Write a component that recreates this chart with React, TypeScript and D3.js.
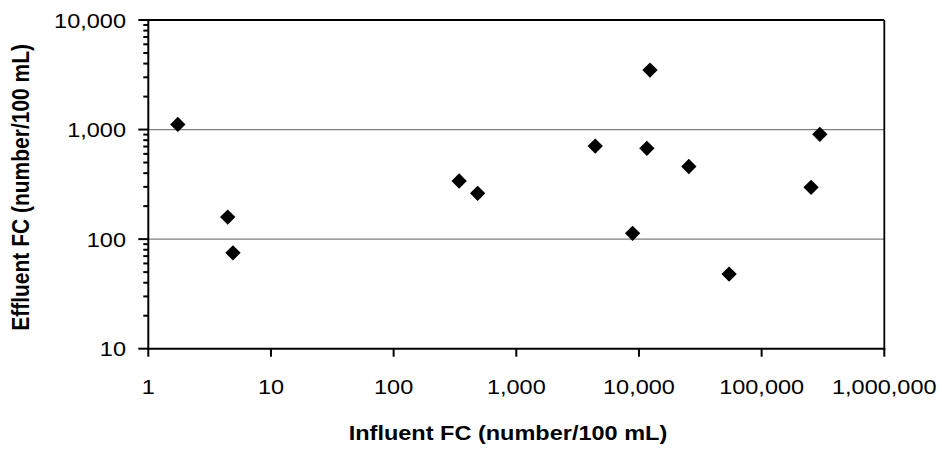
import React from "react";
import * as d3 from "d3";

const influentFC: number[] = [1.74, 4.44, 4.9, 342, 484, 4400, 8870, 11600, 12300, 25500, 54300, 253000, 298000];
const effluentFC: number[] = [1115, 159, 75, 339, 262, 707, 113, 674, 3490, 460, 48, 297, 905];
const xTicks: number[] = [1, 10, 100, 1000, 10000, 100000, 1000000];
const yTicks: number[] = [10, 100, 1000, 10000];
const gridValues: number[] = [100, 1000];
const xTitle = "Influent FC (number/100 mL)";
const yTitle = "Effluent FC (number/100 mL)";

const W = 942;
const H = 452;
const left = 148.3;
const right = 884.3;
const top = 20;
const bottom = 348.7;
const font = "'Liberation Sans', Arial, Helvetica, sans-serif";
const FS = 21;
const SX = 1.12;

export default function App() {
  const x = d3.scaleLog().domain([1, 1000000]).range([left, right]);
  const y = d3.scaleLog().domain([10, 10000]).range([bottom, top]);
  const fmt = d3.format(",");
  const minor: number[] = [];
  for (let d = 10; d < 10000; d *= 10) {
    for (let k = 2; k <= 9; k++) minor.push(d * k);
  }
  const diamond = d3.symbol().type(d3.symbolDiamond2).size(150)();

  return (
    <svg width={W} height={H} style={{ position: "absolute", left: 0, top: 0, background: "#fff" }}>
      <rect x={0} y={0} width={W} height={H} fill="#fff" />
      {gridValues.map((v) => (
        <line key={"g" + v} x1={left} x2={right} y1={y(v)} y2={y(v)} stroke="#808080" strokeWidth={1.2} />
      ))}
      <line x1={left} x2={right} y1={top} y2={top} stroke="#000" strokeWidth={1.8} />
      <line x1={right} x2={right} y1={top} y2={bottom} stroke="#000" strokeWidth={1.8} />
      <line x1={left} x2={left} y1={top - 1} y2={bottom + 1} stroke="#000" strokeWidth={2} />
      <line x1={left - 1} x2={right + 1} y1={bottom} y2={bottom} stroke="#000" strokeWidth={2} />
      {yTicks.map((v) => (
        <g key={"yt" + v}>
          <line x1={left - 10} x2={left} y1={y(v)} y2={y(v)} stroke="#000" strokeWidth={2} />
          <text
            transform={`translate(126,${y(v)}) scale(${SX},1)`}
            dy="0.36em"
            textAnchor="end"
            fontFamily={font}
            fontSize={FS}
            fill="#000"
          >
            {fmt(v)}
          </text>
        </g>
      ))}
      {minor.map((v) => (
        <line key={"ym" + v} x1={left - 5} x2={left} y1={y(v)} y2={y(v)} stroke="#000" strokeWidth={2} />
      ))}
      {xTicks.map((v) => (
        <g key={"xt" + v}>
          <line x1={x(v)} x2={x(v)} y1={bottom} y2={bottom + 8} stroke="#000" strokeWidth={2} />
          <text
            transform={`translate(${x(v)},394) scale(${SX},1)`}
            textAnchor="middle"
            fontFamily={font}
            fontSize={FS}
            fill="#000"
          >
            {fmt(v)}
          </text>
        </g>
      ))}
      {influentFC.map((v, i) => (
        <path key={"p" + i} d={diamond!} transform={`translate(${x(v)},${y(effluentFC[i])})`} fill="#000" />
      ))}
      <text
        transform={`translate(508,440) scale(${SX},1)`}
        textAnchor="middle"
        fontFamily={font}
        fontSize={FS}
        fontWeight="bold"
        fill="#000"
      >
        {xTitle}
      </text>
      <text
        transform={`translate(29,${(top + bottom) / 2 + 3}) scale(${SX},1) rotate(-90)`}
        textAnchor="middle"
        fontFamily={font}
        fontSize={FS}
        fontWeight="bold"
        fill="#000"
      >
        {yTitle}
      </text>
    </svg>
  );
}
